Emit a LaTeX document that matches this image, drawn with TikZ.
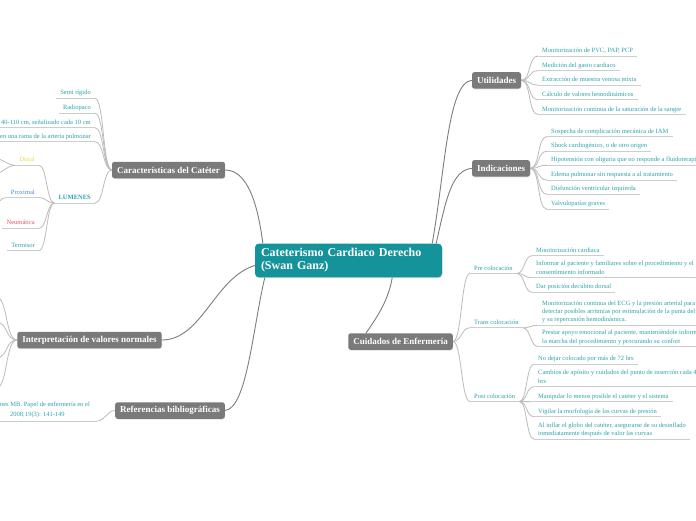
\documentclass[tikz,border=0pt]{standalone}
\usepackage{fontspec}
\setmainfont{Liberation Serif}
\usetikzlibrary{shadows,backgrounds}
\definecolor{teal1}{RGB}{21,147,155}
\definecolor{leaft}{RGB}{45,163,170}
\definecolor{boxg}{RGB}{122,122,122}
\definecolor{conng}{RGB}{125,125,125}
\definecolor{ulg}{RGB}{205,205,205}
\definecolor{brg}{RGB}{188,188,188}
\definecolor{distalyellow}{RGB}{236,222,70}
\definecolor{proxblue}{RGB}{70,140,225}
\definecolor{neured}{RGB}{232,84,106}
\newcommand\dstrut{\rule[-1.6pt]{0pt}{1pt}}
\tikzset{
  root/.style={fill=teal1, rounded corners=4pt, text=white,
    font=\fontsize{12}{13}\selectfont\bfseries, text width=175pt, align=left,
    inner xsep=6pt, inner ysep=5pt,
    drop shadow={opacity=0.25, shadow xshift=0.5pt, shadow yshift=-0.8pt}},
  topic/.style={fill=boxg, rounded corners=2.5pt, text=white,
    font=\fontsize{9}{10}\selectfont\bfseries, inner xsep=5pt, inner ysep=0pt,
    minimum height=16.5pt,
    drop shadow={opacity=0.25, shadow xshift=0.4pt, shadow yshift=-0.8pt}},
  ul/.style={draw=ulg, line width=0.8pt},
  main/.style={draw=conng, line width=0.9pt},
  br/.style={draw=brg, line width=0.8pt},
  leaftext/.style={text=leaft, font=\fontsize{6.5}{8.3}\selectfont, inner sep=0pt},
  leaf/.style={text=leaft, font=\fontsize{6.5}{8.3}\selectfont, inner xsep=4pt,
    inner ysep=1.7pt, execute at end node={\dstrut},
    append after command={(\tikzlastnode.south west) edge[ul] (\tikzlastnode.south east)}},
  rleaf/.style={leaf, anchor=south west, align=left},
  lleaf/.style={leaf, anchor=south east, align=right},
}
\begin{document}
\begin{tikzpicture}[x=1pt,y=-1pt]
\useasboundingbox (0,0) rectangle (696,520);

% central and main topics
\node[root] (root) at (348.5,260.5) {Cateterismo Cardiaco Derecho\\(Swan Ganz)};
\node[topic] (utl) at (496.5,80.3) {Utilidades};
\node[topic] (ind) at (501,168.3) {Indicaciones};
\node[topic] (cui) at (400.5,341.5) {Cuidados de Enfermería};
\node[topic] (car) at (168.5,170) {Características del Catéter};
\node[topic] (int) at (89.5,340) {Interpretación de valores normales};
\node[topic] (ref) at (170,410.5) {Referencias bibliográficas};

% Utilidades
\node[rleaf] (u1) at (538,56) {Monitorización de PVC, PAP, PCP};
\node[rleaf] (u2) at (538,70.7) {Medición del gasto cardiaco};
\node[rleaf] (u3) at (538,85) {Extracción de muestra venosa mixta};
\node[rleaf] (u4) at (538,99.8) {Cálculo de valores hemodinámicos};
\node[rleaf] (u5) at (538,114.5) {Monitorización continua de la saturación de la sangre};

% Indicaciones
\node[rleaf] (i1) at (547,136.5) {Sospecha de complicación mecánica de IAM};
\node[rleaf] (i2) at (547,151.3) {Shock cardiogénico, o de otro origen};
\node[rleaf] (i3) at (547,165.3) {Hipotensión con oliguria que no responde a fluidoterapia};
\node[rleaf] (i4) at (547,180) {Edema pulmonar sin respuesta a al tratamiento};
\node[rleaf] (i5) at (547,194.3) {Disfunción ventricular izquierda};
\node[rleaf] (i6) at (547,209.2) {Valvulopatías graves};

% Cuidados
\node[rleaf] (pre) at (470,273.5) {Pre colocación};
\node[rleaf] (tra) at (470,327.8) {Trans colocación};
\node[rleaf] (pos) at (470,401.5) {Post colocación};

\node[rleaf] (p1) at (532,255.7) {Monitorización cardiaca};
\node[rleaf] (p2) at (532,277.7) {Informar al paciente y familiares sobre el procedimiento y el\\consentimiento informado};
\node[rleaf] (p3) at (532,292.3) {Dar posición decúbito dorsal};

\node[rleaf] (t1) at (538,325.3) {Monitorización continua del ECG y la presión arterial para\\detectar posibles arritmias por estimulación de la punta del\\y su repercusión hemodinámica.};
\node[rleaf] (t2) at (538,346.5) {Prestar apoyo emocional al paciente, manteniéndole informado\\la marcha del procedimiento y procurando su confort};

\node[rleaf] (q1) at (534,364.3) {No dejar colocado por más de 72 hrs};
\node[rleaf] (q2) at (534,386.7) {Cambios de apósito y cuidados del punto de inserción cada 48\\hrs};
\node[rleaf] (q3) at (534,401.7) {Manipular lo menos posible el catéter y el sistema};
\node[rleaf] (q4) at (534,416.7) {Vigilar la morfología de las curvas de presión};
\node[rleaf] (q5) at (534,439) {Al inflar el globo del catéter, asegurarse de su desinflado\\inmediatamente después de valor las curvas};

% Caracteristicas
\node[lleaf] (c1) at (95,98.3) {Semi rígido};
\node[lleaf] (c2) at (95,113.3) {Radiopaco};
\node[lleaf] (c3) at (95,127.7) {40-110 cm, señalizado cada 10 cm};
\node[lleaf] (c4) at (95,141.7) {en una rama de la arteria pulmonar};
\node[lleaf, font=\fontsize{6.5}{8.3}\selectfont\bfseries] (lum) at (95,203) {LUMENES};

\node[lleaf, text=distalyellow] (dis) at (39,165.3) {Distal};
\node[lleaf, text=proxblue] (prx) at (39,197.7) {Proximal};
\node[lleaf, text=neured] (neu) at (39,228.3) {Neumática};
\node[lleaf] (ter) at (39,250.5) {Termisor};

\coordinate (da) at (-6,158);
\coordinate (db) at (-6,174);
\coordinate (pa) at (-6,203);
\coordinate (ia) at (-4,297);
\coordinate (ib) at (-4,322);
\coordinate (ic) at (-4,358);
\coordinate (id) at (-4,388);

% Referencias
\node[leaftext, anchor=base east] (ra) at (90,406.5) {nes MB. Papel de enfermería en el};
\node[leaftext, anchor=base west] (rb) at (10,416.5) {2008;19(3): 141-149};
\coordinate (rl) at (-5,421);
\coordinate (ru) at (97,421);
\draw[ul] (rl) -- (ru);

\begin{pgfonlayer}{background}
\fill[white] (0,0) rectangle (696,520);
% main connectors
\draw[main] ([xshift=-10pt]root.north east) .. controls +(13,-73) and +(-24,2) .. (utl.west);
\draw[main] ([xshift=-6pt]root.north east) .. controls +(10,-45) and +(-20,2) .. (ind.west);
\draw[main] ([xshift=8pt]root.north west) .. controls +(-5,-40) and +(22,0) .. (car.east);
\draw[main] ([yshift=-5pt]root.west) .. controls +(-40,12) and +(40,0) .. (int.east);
\draw[main] ([xshift=10pt]root.south west) .. controls +(-12,50) and +(22,-2) .. (ref.east);
\draw[main] ([xshift=-50pt]root.south east) .. controls +(-4,25) and +(8,-12) .. ([xshift=18pt]cui.north west);
% branches
\foreach \n in {u1,u2,u3,u4,u5}
  \draw[br] (utl.east) .. controls +(10,0) and +(-10,0) .. (\n.south west);
\foreach \n in {i1,i2,i3,i4,i5,i6}
  \draw[br] (ind.east) .. controls +(10,0) and +(-10,0) .. (\n.south west);
\foreach \n in {pre,tra,pos}
  \draw[br] (cui.east) .. controls +(9,0) and +(-9,0) .. (\n.south west);
\foreach \n in {p1,p2,p3}
  \draw[br] (pre.south east) .. controls +(8,0) and +(-8,0) .. (\n.south west);
\foreach \n in {t1,t2}
  \draw[br] (tra.south east) .. controls +(8,0) and +(-8,0) .. (\n.south west);
\foreach \n in {q1,q2,q3,q4,q5}
  \draw[br] (pos.south east) .. controls +(8,0) and +(-8,0) .. (\n.south west);
\foreach \n in {c1,c2,c3,c4,lum}
  \draw[br] (car.west) .. controls +(-9,0) and +(9,0) .. (\n.south east);
\foreach \n in {dis,prx,neu,ter}
  \draw[br] (lum.south west) .. controls +(-8,0) and +(8,0) .. (\n.south east);
\foreach \n in {da,db}
  \draw[br] (dis.south west) .. controls +(-8,0) and +(8,0) .. (\n);
\draw[br] (prx.south west) .. controls +(-8,0) and +(8,0) .. (pa);
\foreach \n in {ia,ib,ic,id}
  \draw[br] (int.west) .. controls +(-12,0) and +(12,0) .. (\n);
\draw[br] (ref.west) .. controls +(-8,0) and +(8,0) .. (ru);
\end{pgfonlayer}
\end{tikzpicture}
\end{document}
